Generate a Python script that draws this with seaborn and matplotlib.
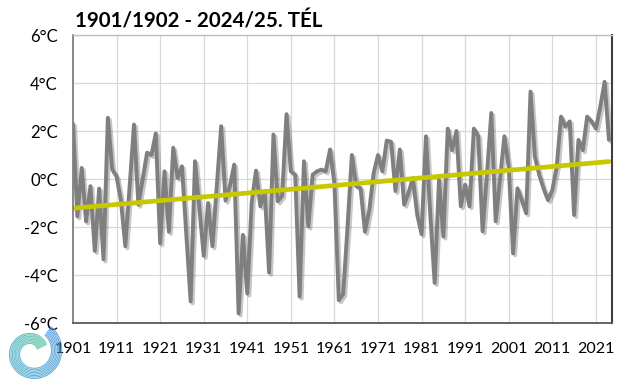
import numpy as np
import pandas as pd
import matplotlib
matplotlib.use("Agg")
import matplotlib.pyplot as plt
import matplotlib.patheffects as pe
import seaborn as sns

# Téli középhőmérséklet eltérések (°C), 1901/02 - 2024/25
years = list(range(1901, 2025))
winter_anomaly = [
    2.3, -1.56, 0.46, -1.77, -0.3, -3.0, -0.4, -3.35, 2.55, 0.4,      # 1901-1910
    0.1, -0.9, -2.8, -0.3, 2.27, -1.07, 0.0, 1.1, 1.0, 1.9,           # 1911-1920
    -2.68, 0.32, -2.2, 1.3, 0.04, 0.53, -2.3, -5.1, 0.74, -1.2,       # 1921-1930
    -3.2, -1.0, -2.8, -0.3, 2.2, -0.9, -0.3, 0.6, -5.6, -2.33,        # 1931-1940
    -4.77, -1.0, 0.35, -1.14, -0.5, -3.9, 1.85, -0.93, -0.7, 2.7,     # 1941-1950
    0.32, 0.18, -4.9, 0.74, -1.98, 0.18, 0.32, 0.39, 0.32, 1.23,      # 1951-1960
    -0.2, -5.05, -4.8, -2.0, 1.0, -0.3, -0.38, -2.2, -1.3, 0.25,      # 1961-1970
    1.0, 0.32, 1.6, 1.55, -0.5, 1.23, -1.07, -0.58, 0.04, -1.5,       # 1971-1980
    -2.3, 1.78, -1.5, -4.33, -0.03, -2.4, 2.1, 1.2, 2.0, -1.14,       # 1981-1990
    -0.24, -1.14, 2.1, 1.78, -2.18, 0.2, 2.75, -1.76, 0.0, 1.78,      # 1991-2000
    0.5, -3.1, -0.39, -0.88, -1.43, 3.64, 0.93, 0.17, -0.4, -0.88,    # 2001-2010
    -0.46, 0.5, 2.6, 2.18, 2.4, -1.5, 1.63, 1.2, 2.6, 2.4,            # 2011-2020
    2.1, 3.0, 4.05, 1.63,                                             # 2021-2024
]
x_ticks = list(range(1901, 2022, 10))
y_ticks = [-6, -4, -2, 0, 2, 4, 6]
title = "1901/1902 - 2024/25. TÉL"

sns.set_theme(style="white")
plt.rcParams['font.family'] = ['Lato', 'DejaVu Sans']

df = pd.DataFrame({"year": years, "anomaly": winter_anomaly})
slope, intercept = np.polyfit(df["year"], df["anomaly"], 1)
df["trend"] = intercept + slope * df["year"]

fig = plt.figure(figsize=(6.4, 3.79), dpi=100)
ax = fig.add_axes([73 / 640, 1 - 323 / 379, (612 - 73) / 640, (323 - 35) / 379])

sns.lineplot(data=df, x="year", y="anomaly", ax=ax, color="#7f7f7f", lw=2.8,
             solid_joinstyle="round",
             path_effects=[pe.SimpleLineShadow(offset=(1.5, -1.5), shadow_color="black", alpha=0.22),
                           pe.Normal()])
sns.lineplot(data=df, x="year", y="trend", ax=ax, color="#c8c800", lw=3.4)

ax.set_xlim(1901, 2024.7)
ax.set_ylim(-6, 6)
ax.set_xticks(x_ticks)
ax.set_xticklabels([str(y) for y in x_ticks])
ax.set_yticks(y_ticks)
ax.set_yticklabels([f"{v}°C" for v in y_ticks])
ax.set_xlabel("")
ax.set_ylabel("")
ax.grid(True, color="#d9d9d9", lw=0.9)
ax.tick_params(axis="x", length=0, pad=14, labelsize=11.5, colors="black")
ax.tick_params(axis="y", length=0, pad=11, labelsize=12, colors="black")

ax.spines["left"].set_color("#808080")
ax.spines["left"].set_linewidth(1.3)
ax.spines["bottom"].set_color("#595959")
ax.spines["bottom"].set_linewidth(1.3)
ax.spines["right"].set_color("#404040")
ax.spines["right"].set_linewidth(1.5)
ax.spines["top"].set_color("#bfbfbf")
ax.spines["top"].set_linewidth(1.0)

fig.text(75 / 640, 1 - 27 / 379, title, fontsize=14.8, fontweight="bold",
         ha="left", va="baseline", color="black")

# logó (spirál) a bal alsó sarokban
lax = fig.add_axes([0.0, 0.0, 0.1, 0.16])
lax.set_aspect("equal")
lax.axis("off")
t = np.linspace(0.15 * np.pi, 2.3 * np.pi, 200)
cmap = sns.blend_palette(["#33b98a", "#3aa3c8", "#3f8fd8"], as_cmap=True)
for k in range(8):
    r = 5.0 + k * 1.2 + (t - t[0]) * 1.9
    xs = r * np.cos(t)
    ys = r * np.sin(t)
    for i in range(len(t) - 1):
        lax.plot(xs[i:i + 2], ys[i:i + 2], color=cmap(i / len(t)), lw=0.7,
                 solid_capstyle="butt", clip_on=False)
lax.set_xlim(-25, 25)
lax.set_ylim(-22, 28)

fig.savefig("out.png", dpi=100)
